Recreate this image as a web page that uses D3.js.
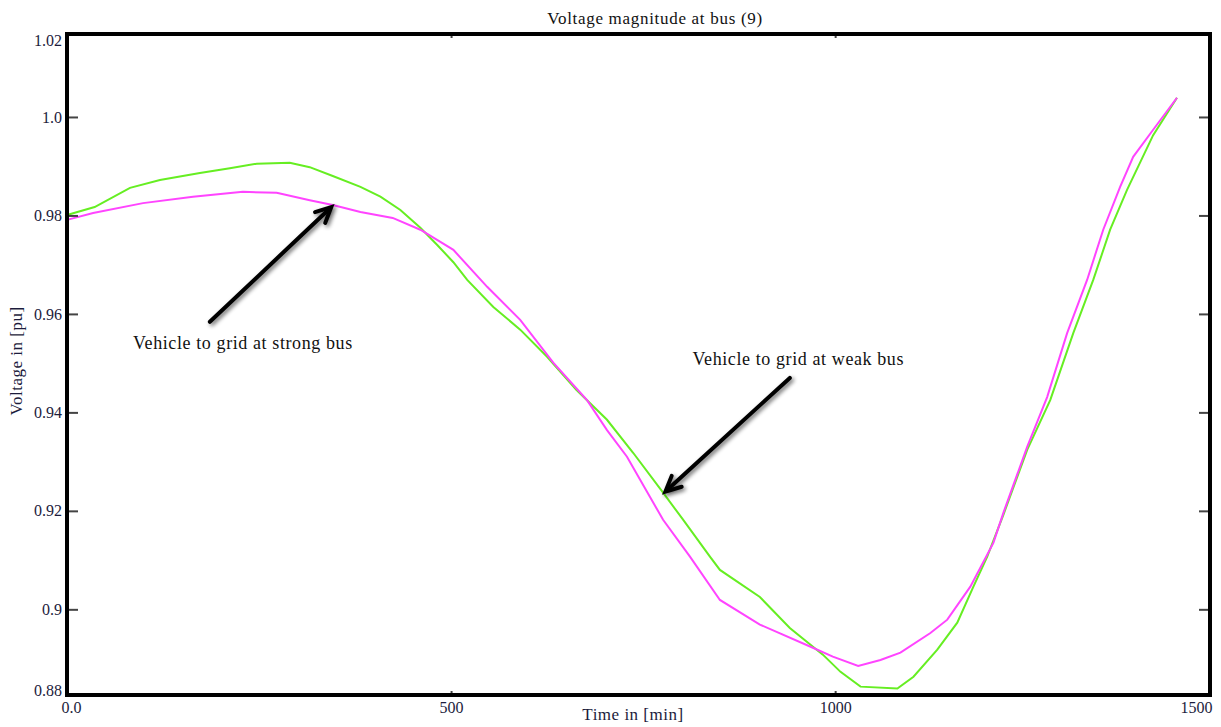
<!DOCTYPE html>
<html>
<head>
<meta charset="utf-8">
<script src="https://cdn.jsdelivr.net/npm/d3@7"></script>
<style>
  html, body { margin: 0; padding: 0; background: #fff; }
  svg { display: block; }
  text { font-family: "Liberation Serif", "Times New Roman", serif; }
</style>
</head>
<body>
<svg id="chart" width="1221" height="727"></svg>
<script>
// ---- data ----
const title = "Voltage magnitude at bus (9)";
const xLabel = "Time in [min]";
const yLabel = "Voltage in [pu]";

// Vehicle to grid at weak bus (green)
const weakTime = [0, 36, 82, 121, 173, 212, 247, 290, 316, 346, 382, 408, 434, 460, 482, 503, 521, 555, 590, 625, 663, 703, 737, 776, 802, 837, 850, 902, 941, 984, 1007, 1033, 1081, 1102, 1133, 1159, 1180, 1198, 1219, 1250, 1280, 1310, 1336, 1358, 1380, 1414, 1445];
const weakVolt = [0.9801, 0.9817, 0.9856, 0.9872, 0.9886, 0.9896, 0.9905, 0.9907, 0.9898, 0.9880, 0.9858, 0.9838, 0.9811, 0.9775, 0.9740, 0.9705, 0.9669, 0.9614, 0.9568, 0.9513, 0.9446, 0.9385, 0.9318, 0.9237, 0.9182, 0.9107, 0.9080, 0.9025, 0.8962, 0.8908, 0.8873, 0.8843, 0.8839, 0.8863, 0.8918, 0.8973, 0.9046, 0.9107, 0.9192, 0.9324, 0.9425, 0.9561, 0.9669, 0.9771, 0.9852, 0.9963, 1.0039];

// Vehicle to grid at strong bus (magenta)
const strongTime = [0, 34, 99, 164, 229, 273, 316, 346, 382, 424, 460, 503, 547, 590, 633, 677, 703, 729, 759, 776, 811, 850, 902, 971, 997, 1030, 1059, 1085, 1124, 1146, 1176, 1206, 1219, 1250, 1276, 1302, 1328, 1349, 1371, 1388, 1414, 1445];
const strongVolt = [0.9791, 0.9805, 0.9825, 0.9838, 0.9848, 0.9846, 0.9831, 0.9821, 0.9807, 0.9795, 0.9771, 0.9730, 0.9655, 0.9588, 0.9501, 0.9425, 0.9364, 0.9310, 0.9228, 0.9182, 0.9107, 0.9019, 0.8969, 0.8922, 0.8904, 0.8885, 0.8897, 0.8912, 0.8952, 0.8979, 0.9046, 0.9135, 0.9196, 0.9330, 0.9431, 0.9561, 0.9669, 0.9771, 0.9858, 0.9919, 0.9974, 1.0039];

// axis domain and ticks
const xDomain = [0, 1488];
const yDomain = [0.8826, 1.01685];
const xTickVals = [0, 500, 1000, 1488];
const xTickLabels = ["0.0", "500", "1000", "1500"];
const yTickVals = [1.01685, 1.0, 0.98, 0.96, 0.94, 0.92, 0.9, 0.8826];
const yTickLabels = ["1.02", "1.0", "0.98", "0.96", "0.94", "0.92", "0.9", "0.88"];

// annotations: [text, textTime, textVolt, tailTime, tailVolt, headTime, headVolt]
const annStrong = ["Vehicle to grid at strong bus", 229, 0.9528, 186, 0.9584, 344, 0.9817];
const annWeak = ["Vehicle to grid at weak bus", 952, 0.9496, 941, 0.9470, 779, 0.9239];

// ---- drawing ----
const svg = d3.select("#chart");
const mL = 67, mR = 1210, mT = 34, mB = 695;
const x = d3.scaleLinear().domain(xDomain).range([mL, mR]);
const y = d3.scaleLinear().domain(yDomain).range([mB, mT]);

const defs = svg.append("defs");
const f = defs.append("filter").attr("id", "shadow").attr("x", "-20%").attr("y", "-20%").attr("width", "140%").attr("height", "140%");
f.append("feGaussianBlur").attr("in", "SourceAlpha").attr("stdDeviation", 2).attr("result", "b");
f.append("feOffset").attr("in", "b").attr("dx", 2).attr("dy", 2).attr("result", "o");
f.append("feComponentTransfer").attr("in", "o").attr("result", "o2")
  .append("feFuncA").attr("type", "linear").attr("slope", 0.6);
const mg = f.append("feMerge");
mg.append("feMergeNode").attr("in", "o2");
mg.append("feMergeNode").attr("in", "SourceGraphic");

// title
svg.append("text").attr("x", 655).attr("y", 24).attr("text-anchor", "middle")
  .attr("font-size", 17).attr("letter-spacing", 0.7).attr("fill", "#111").text(title);

// curves
const line = d3.line().x(d => x(d[0])).y(d => y(d[1])).curve(d3.curveLinear);
const weak = weakTime.map((t, i) => [t, weakVolt[i]]);
const strong = strongTime.map((t, i) => [t, strongVolt[i]]);
svg.append("path").datum(weak).attr("d", line).attr("fill", "none")
  .attr("stroke", "#66ee22").attr("stroke-width", 2);
svg.append("path").datum(strong).attr("d", line).attr("fill", "none")
  .attr("stroke", "#ff44ff").attr("stroke-width", 2);

// axes
const tickColor = "#444";
const yAxisL = d3.axisLeft(y).tickValues(yTickVals).tickFormat((d, i) => yTickLabels[i]).tickSize(-11).tickPadding(5);
const gL = svg.append("g").attr("transform", `translate(${mL},0)`).call(yAxisL);
const yAxisR = d3.axisRight(y).tickValues(yTickVals.slice(1, -1)).tickFormat("").tickSize(-11);
const gR = svg.append("g").attr("transform", `translate(${mR},0)`).call(yAxisR);
const xAxisB = d3.axisBottom(x).tickValues(xTickVals).tickFormat((d, i) => xTickLabels[i]).tickSize(-4).tickPadding(7);
const gB = svg.append("g").attr("transform", `translate(0,${mB})`).call(xAxisB);
const xAxisT = d3.axisTop(x).tickValues(xTickVals.slice(1, -1)).tickFormat("").tickSize(-4);
const gT = svg.append("g").attr("transform", `translate(0,${mT})`).call(xAxisT);

[gL, gR, gB, gT].forEach(g => {
  g.select(".domain").remove();
  g.selectAll(".tick line").attr("stroke", tickColor).attr("stroke-width", 2);
  g.selectAll(".tick text").attr("font-family", "Liberation Serif, serif").attr("font-size", 16).attr("fill", "#1c1c3c");
});
// no tick marks at the extreme labels
gL.selectAll(".tick").filter((d, i) => i === 0 || i === yTickVals.length - 1).select("line").remove();
gB.selectAll(".tick").filter((d, i) => i === 0 || i === xTickVals.length - 1).select("line").remove();
gL.selectAll(".tick").filter((d, i) => i === 0).select("text").attr("dy", "0.7em");
gL.selectAll(".tick").filter((d, i) => i === yTickVals.length - 1).select("text").attr("dy", "0.05em");
gB.selectAll(".tick").filter((d, i) => i === 0).select("text").attr("text-anchor", "start").attr("dx", -6);
gB.selectAll(".tick").filter((d, i) => i === xTickVals.length - 1).select("text").attr("text-anchor", "end").attr("dx", 2);

// frame
svg.append("rect").attr("x", mL).attr("y", mT).attr("width", mR - mL).attr("height", mB - mT)
  .attr("fill", "none").attr("stroke", "#000").attr("stroke-width", 4);

// axis labels
svg.append("text").attr("x", 633).attr("y", 720).attr("text-anchor", "middle")
  .attr("font-size", 17).attr("letter-spacing", 0.5).attr("fill", "#1c1c3c").text(xLabel);
svg.append("text").attr("transform", "translate(22,361) rotate(-90)").attr("text-anchor", "middle")
  .attr("font-size", 17).attr("letter-spacing", 0.5).attr("fill", "#1c1c3c").text(yLabel);

// annotations
function arrow(a) {
  const [txt, tx, tv, x0, v0, x1, v1] = a;
  const X0 = x(x0), Y0 = y(v0), X1 = x(x1), Y1 = y(v1);
  const ang = Math.atan2(Y1 - Y0, X1 - X0);
  const L = 17, spread = 0.45;
  const p1 = [X1 - L * Math.cos(ang - spread), Y1 - L * Math.sin(ang - spread)];
  const p2 = [X1 - L * Math.cos(ang + spread), Y1 - L * Math.sin(ang + spread)];
  const g = svg.append("g").attr("filter", "url(#shadow)");
  g.append("line").attr("x1", X0).attr("y1", Y0).attr("x2", X1 - 2 * Math.cos(ang)).attr("y2", Y1 - 2 * Math.sin(ang))
    .attr("stroke", "#000").attr("stroke-width", 4).attr("stroke-linecap", "round");
  g.append("path").attr("d", `M${p1[0]},${p1[1]}L${X1},${Y1}L${p2[0]},${p2[1]}`)
    .attr("fill", "none").attr("stroke", "#000").attr("stroke-width", 4)
    .attr("stroke-linecap", "round").attr("stroke-linejoin", "miter");
  svg.append("text").attr("x", x(tx)).attr("y", y(tv)).attr("text-anchor", "middle")
    .attr("font-size", 18).attr("letter-spacing", 0.6).attr("fill", "#111").text(txt);
}
arrow(annStrong);
arrow(annWeak);
</script>
</body>
</html>
